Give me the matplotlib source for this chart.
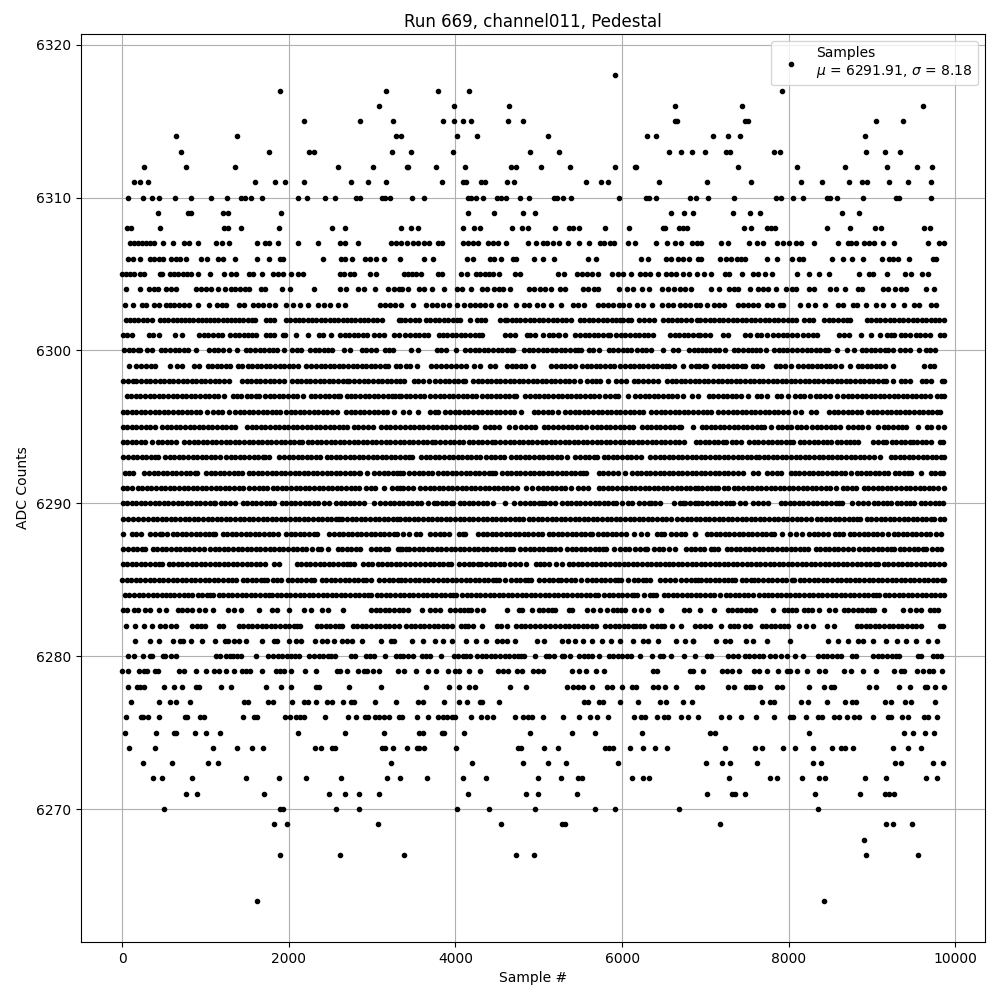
import matplotlib
matplotlib.use("Agg")
import matplotlib.pyplot as plt

# Sample numbers at each ADC level. Sparse levels are single
# dots read one by one; in the dense levels (about 6282-6302) merged dots cannot be
# separated, so the positions inside each visible run are estimates.
S6318 = [5919]
S6317 = [1895, 3167, 3795, 4167, 7917]
S6316 = [3083, 3987, 4647, 6639, 7437, 9609]
S6315 = [2183, 2855, 3251, 3855, 3987, 4095, 4191, 4635, 4815, 6639, 6663, 7473, 7505, 9045, 9369]
S6314 = [647, 1379, 3287, 3343, 4023, 4263, 5115, 6303, 6411, 7089, 7269, 7413, 8913]
S6313 = [707, 1763, 2243, 2303, 3239, 3471, 3975, 4899, 5247, 6567, 6711, 6843, 6993, 7245, 7293, 7821, 7893, 8925, 9153, 9333]
S6312 = [263, 767, 1355, 2591, 3011, 3415, 3431, 3771, 4119, 4671, 4731, 5031, 5379, 5919, 6150, 6170, 7389, 8097, 8673, 9177, 9537, 9717]
S6311 = [143, 215, 311, 1595, 1835, 1955, 2183, 2747, 2951, 3167, 3843, 4095, 4131, 4311, 4359, 4623, 4707, 5571, 5751, 5835, 6447, 7017, 7545, 8145, 8397, 8721, 8877, 8937, 9201, 9429, 9705]
S6310 = [71, 251, 359, 443, 635, 827, 1067, 1259, 1423, 1475, 1547, 1679, 2111, 2219, 2435, 2555, 2807, 2855, 3119, 3151, 3215, 3483, 3627, 4155, 4191, 4251, 4335, 4503, 4551, 4611, 4779, 4887, 5187, 5223, 5295, 5391, 5967, 6291, 6327, 6411, 6819, 6891, 7029, 7341, 7845, 7905, 8049, 8169, 8457, 8493, 8577, 8889, 9285, 9321, 9705]
S6309 = [431, 791, 831, 1211, 1271, 1907, 4155, 4467, 4815, 4959, 6591, 6747, 6855, 7329, 7533, 7653, 8637, 8841]
S6308 = [59, 111, 455, 1223, 1271, 1427, 1883, 2519, 2675, 3343, 3471, 3555, 4095, 4227, 4299, 4683, 4803, 4875, 5199, 5367, 5415, 5487, 5799, 6087, 6495, 6519, 6687, 6735, 6783, 7461, 7545, 7737, 7785, 7833, 8457, 8733, 9033, 9105, 9621, 9693]
S6307 = [95, 143, 191, 239, 287, 335, 383, 491, 611, 743, 803, 911, 1127, 1199, 1283, 1619, 1715, 1763, 1867, 2111, 2351, 2615, 2675, 2831, 3223, 3283, 3343, 3423, 3495, 3555, 3627, 3687, 3795, 3843, 4095, 4155, 4215, 4275, 4395, 4455, 4515, 4611, 4875, 4971, 5055, 5095, 5175, 5247, 5355, 5487, 5607, 5739, 5787, 5859, 5907, 6075, 6159, 6411, 6543, 6639, 6711, 6843, 6903, 6949, 7189, 7269, 7517, 7617, 7689, 7857, 7929, 8001, 8085, 8145, 8301, 8589, 8709, 8745, 8805, 8901, 8961, 9021, 9129, 9261, 9669, 9801, 9861]
S6306 = [71, 131, 215, 335, 383, 443, 491, 587, 647, 695, 767, 947, 1019, 1151, 1211, 1355, 1619, 1763, 1895, 1931, 2411, 2627, 2675, 2759, 2915, 2975, 3047, 3143, 3335, 3627, 3735, 4143, 4215, 4419, 4467, 4551, 4695, 4731, 4947, 5055, 5187, 5595, 5691, 6231, 6315, 6531, 6591, 6675, 6735, 6807, 6915, 6949, 7173, 7245, 7305, 7377, 7425, 7473, 7737, 7857, 8037, 8121, 8169, 8517, 8649, 8757, 8889, 9117, 9201, 9249, 9309, 9441, 9729, 9765]
S6305 = [0, 47, 95, 143, 215, 263, 455, 479, 575, 623, 671, 731, 779, 827, 911, 1055, 1223, 1307, 1367, 1523, 1571, 1679, 1811, 1871, 1931, 2027, 2111, 2171, 2615, 2663, 2735, 2783, 2975, 3047, 3387, 3435, 3483, 3531, 3591, 3795, 3843, 4071, 4143, 4251, 4299, 4359, 4407, 4455, 4527, 4719, 4779, 5235, 5307, 5463, 5523, 5583, 5643, 5715, 5883, 5955, 6015, 6111, 6219, 6279, 6339, 6435, 6531, 6591, 6651, 6735, 6807, 6903, 6981, 7065, 7233, 7281, 7437, 7569, 7629, 7713, 7797, 8097, 8241, 8361, 8481, 8841, 8961, 9009, 9177, 9393, 9465, 9597, 9669]
S6304 = [47, 215, 323, 383, 431, 527, 587, 647, 887, 947, 1007, 1067, 1151, 1235, 1307, 1355, 1415, 1475, 1523, 1667, 1715, 1919, 2015, 2303, 2615, 2687, 2831, 2903, 3035, 3191, 3263, 3323, 3363, 3435, 3567, 3627, 3723, 3867, 4023, 4083, 4191, 4323, 4383, 4467, 4527, 4575, 4659, 4887, 4947, 5019, 5079, 5151, 5259, 5319, 5535, 5595, 5667, 5715, 5967, 6063, 6135, 6243, 6327, 6483, 6555, 6627, 6699, 6759, 6831, 7065, 7161, 7281, 7341, 7389, 7533, 7629, 7689, 7749, 7845, 7965, 8037, 8085, 8241, 8301, 8493, 8565, 8673, 8829, 8877, 9129, 9189, 9273, 9345, 9405, 9645, 9741]
S6303 = [35, 131, 239, 287, 383, 443, 527, 575, 623, 683, 743, 803, 911, 1043, 1139, 1199, 1247, 1403, 1463, 1571, 1631, 1691, 1763, 1835, 1967, 2051, 2135, 2231, 2351, 2423, 2495, 2591, 2675, 3095, 3155, 3215, 3275, 3343, 3495, 3651, 3723, 3783, 3855, 3927, 4023, 4107, 4179, 4239, 4299, 4359, 4431, 4527, 4599, 4731, 4827, 4887, 4983, 5055, 5151, 5271, 5415, 5475, 5547, 5715, 5775, 5835, 5895, 5967, 6015, 6087, 6183, 6255, 6363, 6483, 6555, 6615, 6699, 6759, 6819, 6891, 6933, 7017, 7101, 7161, 7221, 7389, 7449, 7509, 7569, 7629, 7737, 7797, 7893, 7929, 8133, 8229, 8313, 8433, 8589, 8649, 8769, 8817, 8925, 9049, 9129, 9249, 9381, 9501, 9561, 9705, 9765]
S6302 = [47, 95, 143, 195, 245, 295, 359, 455, 505, 555, 605, 655, 705, 755, 805, 855, 905, 955, 1005, 1055, 1105, 1155, 1205, 1255, 1305, 1355, 1405, 1455, 1505, 1555, 1599, 1727, 1775, 1823, 1963, 2015, 2071, 2125, 2175, 2225, 2280, 2330, 2385, 2435, 2490, 2540, 2590, 2645, 2695, 2750, 2800, 2855, 2905, 2955, 3010, 3060, 3115, 3323, 3343, 3395, 3455, 3510, 3565, 3650, 3700, 3750, 3805, 3860, 3915, 3975, 4015, 4055, 4175, 4255, 4305, 4355, 4535, 4590, 4615, 4680, 4730, 4780, 4835, 4890, 4945, 5000, 5055, 5110, 5165, 5220, 5275, 5330, 5385, 5490, 5545, 5600, 5655, 5710, 5765, 5820, 5875, 5925, 5975, 6015, 6065, 6110, 6200, 6260, 6320, 6385, 6490, 6545, 6600, 6655, 6710, 6765, 6825, 6895, 6940, 6995, 7050, 7105, 7160, 7215, 7270, 7325, 7380, 7435, 7490, 7545, 7600, 7655, 7710, 7765, 7820, 7875, 7930, 7985, 8040, 8085, 8185, 8240, 8285, 8425, 8480, 8535, 8590, 8645, 8700, 8730, 8935, 8990, 9045, 9100, 9155, 9210, 9265, 9320, 9375, 9430, 9485, 9540, 9595, 9650, 9705, 9760, 9800, 9861]
S6301 = [7, 60, 115, 327, 370, 443, 639, 719, 927, 980, 1030, 1085, 1145, 1199, 1295, 1350, 1405, 1460, 1515, 1560, 1607, 1727, 1775, 1823, 1927, 1955, 2083, 2231, 2359, 2415, 2503, 2615, 2670, 2725, 2780, 2835, 2890, 2943, 3027, 3085, 3143, 3263, 3320, 3399, 3455, 3510, 3565, 3620, 3675, 3807, 3850, 3903, 3955, 4010, 4065, 4120, 4175, 4230, 4285, 4320, 4599, 4650, 4720, 4859, 4900, 4950, 5047, 5119, 5170, 5225, 5245, 5315, 5439, 5495, 5550, 5605, 5660, 5715, 5770, 5825, 5850, 5927, 5985, 6040, 6095, 6150, 6205, 6260, 6315, 6370, 6575, 6630, 6685, 6740, 6795, 6850, 6905, 6940, 7000, 7057, 7213, 7270, 7473, 7535, 7613, 7670, 7737, 7813, 7870, 7925, 7980, 8040, 8095, 8173, 8225, 8285, 8337, 8605, 8660, 8719, 8861, 8985, 9093, 9173, 9225, 9260, 9341, 9395, 9455, 9521, 9580, 9640, 9695, 9810, 9860]
S6300 = [27, 80, 135, 190, 219, 299, 355, 467, 520, 575, 630, 685, 740, 795, 883, 1047, 1100, 1155, 1210, 1279, 1379, 1487, 1540, 1595, 1650, 1705, 1760, 1815, 1855, 1943, 2039, 2095, 2151, 2255, 2310, 2365, 2420, 2475, 2519, 2667, 2735, 2875, 2930, 2985, 3047, 3155, 3205, 3255, 3471, 3555, 3779, 3830, 3890, 4003, 4119, 4175, 4230, 4285, 4340, 4395, 4450, 4505, 4560, 4615, 4670, 4695, 4827, 4880, 4935, 4990, 5045, 5100, 5155, 5210, 5265, 5320, 5375, 5430, 5475, 5511, 5599, 5655, 5720, 5839, 5895, 5950, 6005, 6060, 6107, 6179, 6240, 6290, 6347, 6495, 6607, 6670, 6807, 6860, 6905, 6955, 7010, 7060, 7113, 7165, 7235, 7341, 7395, 7450, 7505, 7560, 7605, 7649, 7729, 7825, 7880, 7925, 7981, 8040, 8095, 8161, 8215, 8270, 8325, 8380, 8435, 8470, 8581, 8701, 8785, 8873, 8930, 8985, 9040, 9095, 9150, 9195, 9249, 9333, 9390, 9450, 9561, 9641, 9695, 9760]
S6299 = [79, 167, 225, 285, 345, 395, 575, 659, 715, 859, 925, 1027, 1080, 1135, 1190, 1250, 1299, 1387, 1440, 1507, 1560, 1615, 1670, 1725, 1780, 1835, 1890, 1945, 2000, 2055, 2111, 2207, 2265, 2327, 2385, 2440, 2495, 2547, 2600, 2655, 2710, 2765, 2820, 2875, 2930, 2985, 3040, 3095, 3150, 3195, 3287, 3340, 3405, 3455, 3535, 3711, 3770, 3830, 3890, 3950, 4010, 4065, 4130, 4223, 4295, 4419, 4480, 4619, 4675, 4730, 4790, 4839, 4935, 5143, 5211, 5265, 5320, 5375, 5431, 5519, 5575, 5630, 5685, 5740, 5795, 5850, 5905, 5979, 6035, 6090, 6145, 6200, 6255, 6310, 6365, 6420, 6475, 6523, 6567, 6623, 6735, 6831, 6890, 6925, 6980, 7010, 7105, 7160, 7215, 7270, 7325, 7380, 7440, 7480, 7565, 7620, 7680, 7841, 7900, 7960, 8025, 8113, 8170, 8225, 8280, 8335, 8390, 8445, 8500, 8555, 8629, 8737, 8825, 8880, 8935, 8990, 9045, 9100, 9150, 9249, 9621, 9693, 9745]
S6298 = [7, 65, 130, 165, 227, 285, 340, 395, 450, 505, 560, 615, 670, 725, 780, 835, 890, 945, 1000, 1055, 1110, 1165, 1220, 1279, 1439, 1495, 1550, 1605, 1660, 1715, 1770, 1825, 1880, 1939, 2039, 2095, 2150, 2205, 2260, 2315, 2370, 2425, 2480, 2535, 2590, 2645, 2700, 2719, 2787, 2845, 2900, 2955, 3010, 3065, 3120, 3175, 3230, 3285, 3340, 3385, 3499, 3555, 3615, 3680, 3759, 3815, 3870, 3925, 3980, 4035, 4090, 4120, 4211, 4265, 4320, 4375, 4430, 4485, 4540, 4595, 4650, 4705, 4760, 4815, 4870, 4925, 4980, 5035, 5090, 5145, 5200, 5255, 5310, 5365, 5420, 5491, 5579, 5635, 5690, 5740, 5827, 5927, 5985, 6050, 6139, 6195, 6250, 6305, 6365, 6425, 6539, 6595, 6650, 6705, 6760, 6815, 6870, 6920, 6980, 7035, 7090, 7145, 7200, 7255, 7310, 7365, 7420, 7475, 7530, 7585, 7640, 7695, 7750, 7805, 7860, 7915, 7970, 8025, 8080, 8135, 8190, 8245, 8300, 8355, 8410, 8465, 8520, 8575, 8630, 8685, 8740, 8795, 8850, 8905, 8960, 9015, 9070, 9125, 9165, 9249, 9345, 9400, 9450, 9601, 9650, 9710, 9841, 9860]
S6297 = [55, 110, 165, 220, 275, 330, 385, 440, 495, 550, 605, 660, 715, 770, 825, 880, 935, 990, 1045, 1100, 1155, 1219, 1327, 1380, 1423, 1495, 1550, 1605, 1639, 1715, 1770, 1825, 1880, 1935, 1990, 2045, 2100, 2167, 2267, 2320, 2375, 2430, 2485, 2540, 2595, 2619, 2695, 2747, 2800, 2855, 2910, 2965, 3020, 3075, 3130, 3185, 3240, 3279, 3323, 3350, 3405, 3460, 3515, 3570, 3625, 3699, 3755, 3810, 3865, 3920, 3975, 4030, 4085, 4140, 4195, 4251, 4319, 4375, 4430, 4485, 4540, 4595, 4643, 4700, 4727, 4839, 4895, 4950, 5005, 5060, 5115, 5170, 5225, 5280, 5335, 5390, 5445, 5500, 5555, 5610, 5665, 5720, 5791, 5859, 5915, 5950, 6075, 6159, 6215, 6270, 6325, 6380, 6435, 6490, 6545, 6600, 6655, 6731, 6835, 6915, 7041, 7095, 7150, 7205, 7260, 7315, 7370, 7425, 7505, 7613, 7670, 7735, 7853, 7910, 7985, 8073, 8130, 8185, 8257, 8325, 8380, 8435, 8490, 8573, 8653, 8708, 8763, 8818, 8873, 8928, 8983, 9038, 9093, 9148, 9203, 9258, 9313, 9368, 9423, 9478, 9525, 9585, 9640, 9690, 9773, 9830, 9861]
S6296 = [7, 60, 115, 170, 225, 280, 335, 390, 445, 500, 555, 610, 665, 720, 775, 830, 885, 940, 1019, 1087, 1145, 1200, 1279, 1355, 1410, 1465, 1520, 1575, 1630, 1685, 1740, 1795, 1850, 1899, 1967, 2022, 2077, 2132, 2187, 2242, 2297, 2352, 2407, 2462, 2517, 2579, 2687, 2742, 2797, 2852, 2907, 2962, 3017, 3072, 3127, 3182, 3259, 3367, 3439, 3551, 3699, 3750, 3791, 3879, 3935, 3990, 4045, 4100, 4155, 4210, 4265, 4320, 4375, 4430, 4485, 4540, 4595, 4650, 4705, 4783, 4939, 4995, 5050, 5105, 5160, 5231, 5319, 5375, 5430, 5485, 5540, 5595, 5650, 5705, 5760, 5815, 5870, 5925, 5980, 6035, 6090, 6145, 6200, 6255, 6343, 6407, 6465, 6520, 6575, 6630, 6685, 6740, 6795, 6850, 6911, 6965, 7015, 7065, 7153, 7210, 7265, 7325, 7380, 7435, 7490, 7545, 7600, 7655, 7710, 7765, 7820, 7875, 7930, 7985, 8073, 8145, 8265, 8330, 8485, 8540, 8595, 8650, 8705, 8760, 8815, 8865, 8953, 9008, 9063, 9118, 9173, 9228, 9283, 9338, 9393, 9448, 9503, 9558, 9613, 9668, 9723, 9778, 9817]
S6295 = [7, 62, 117, 172, 227, 282, 337, 399, 479, 534, 589, 644, 699, 754, 809, 864, 919, 974, 1029, 1084, 1139, 1194, 1249, 1304, 1359, 1499, 1554, 1609, 1664, 1719, 1774, 1829, 1884, 1939, 1994, 2049, 2104, 2159, 2214, 2269, 2324, 2379, 2434, 2489, 2544, 2599, 2654, 2699, 2779, 2834, 2889, 2950, 3007, 3107, 3162, 3217, 3272, 3340, 3395, 3450, 3505, 3560, 3615, 3670, 3725, 3780, 3835, 3890, 3945, 4000, 4055, 4110, 4165, 4220, 4251, 4351, 4410, 4465, 4527, 4647, 4715, 4791, 4850, 4905, 4950, 5059, 5115, 5170, 5225, 5287, 5345, 5400, 5455, 5510, 5571, 5639, 5695, 5750, 5805, 5860, 5915, 5970, 6025, 6080, 6131, 6239, 6295, 6350, 6405, 6460, 6515, 6570, 6625, 6680, 6711, 6855, 6953, 7008, 7063, 7118, 7173, 7228, 7283, 7338, 7393, 7448, 7503, 7558, 7613, 7668, 7705, 7785, 7865, 7920, 7975, 8025, 8093, 8150, 8205, 8281, 8336, 8391, 8446, 8501, 8556, 8617, 8713, 8770, 8825, 8880, 8945, 9073, 9141, 9196, 9251, 9306, 9361, 9405, 9545, 9653, 9710, 9793, 9860]
S6294 = [5, 60, 115, 170, 225, 280, 359, 427, 482, 537, 592, 647, 747, 802, 857, 912, 967, 1022, 1077, 1132, 1187, 1242, 1297, 1352, 1407, 1462, 1517, 1572, 1627, 1682, 1737, 1792, 1847, 1902, 1957, 2012, 2067, 2122, 2159, 2227, 2282, 2337, 2392, 2447, 2502, 2557, 2612, 2667, 2722, 2777, 2832, 2887, 2942, 2997, 3052, 3107, 3162, 3217, 3272, 3330, 3385, 3440, 3495, 3550, 3605, 3660, 3715, 3751, 3819, 3874, 3929, 3984, 4039, 4091, 4159, 4214, 4269, 4324, 4379, 4434, 4471, 4539, 4594, 4649, 4704, 4759, 4814, 4869, 4924, 4979, 5034, 5089, 5144, 5199, 5254, 5309, 5364, 5419, 5474, 5529, 5584, 5639, 5694, 5749, 5804, 5859, 5914, 5969, 6024, 6079, 6134, 6189, 6244, 6299, 6354, 6409, 6464, 6519, 6574, 6629, 6684, 6737, 6881, 6936, 6991, 7046, 7101, 7156, 7211, 7245, 7313, 7370, 7425, 7525, 7580, 7635, 7690, 7745, 7800, 7855, 7910, 7965, 8020, 8045, 8133, 8188, 8243, 8298, 8353, 8408, 8463, 8505, 8573, 8628, 8683, 8738, 8785, 8825, 9013, 9070, 9125, 9165, 9233, 9290, 9345, 9400, 9450, 9485, 9541, 9596, 9651, 9705, 9813, 9850]
S6293 = [15, 70, 125, 180, 235, 290, 345, 400, 431, 515, 570, 625, 680, 735, 790, 845, 900, 955, 1010, 1065, 1120, 1179, 1247, 1302, 1357, 1412, 1467, 1522, 1577, 1632, 1687, 1720, 1759, 1887, 1942, 1997, 2052, 2107, 2162, 2217, 2272, 2327, 2379, 2455, 2510, 2565, 2620, 2675, 2730, 2785, 2840, 2895, 2950, 3005, 3060, 3115, 3170, 3225, 3280, 3335, 3390, 3445, 3480, 3587, 3642, 3697, 3752, 3807, 3862, 3917, 3972, 4027, 4082, 4137, 4192, 4247, 4291, 4367, 4422, 4477, 4532, 4583, 4667, 4722, 4777, 4832, 4887, 4942, 4997, 5052, 5107, 5162, 5217, 5272, 5339, 5439, 5494, 5549, 5604, 5665, 5699, 5779, 5834, 5889, 5944, 5999, 6054, 6109, 6164, 6231, 6339, 6394, 6449, 6504, 6559, 6614, 6669, 6724, 6779, 6834, 6889, 6945, 7000, 7055, 7110, 7165, 7220, 7275, 7330, 7385, 7440, 7495, 7550, 7605, 7637, 7697, 7752, 7807, 7862, 7917, 7972, 8027, 8082, 8137, 8192, 8247, 8302, 8357, 8412, 8467, 8522, 8577, 8632, 8687, 8742, 8797, 8852, 8907, 8962, 9017, 9093, 9221, 9276, 9331, 9386, 9441, 9496, 9551, 9606, 9661, 9716, 9771, 9826, 9860]
S6292 = [35, 85, 131, 267, 322, 377, 432, 487, 542, 597, 652, 707, 762, 817, 872, 899, 1007, 1062, 1117, 1172, 1227, 1282, 1337, 1392, 1439, 1519, 1574, 1629, 1684, 1739, 1794, 1849, 1904, 1959, 2014, 2069, 2124, 2179, 2234, 2289, 2344, 2399, 2454, 2509, 2564, 2619, 2674, 2729, 2784, 2839, 2859, 2943, 3027, 3082, 3137, 3192, 3247, 3302, 3340, 3371, 3440, 3503, 3558, 3613, 3668, 3723, 3791, 3847, 3902, 3957, 4012, 4067, 4122, 4177, 4232, 4287, 4342, 4397, 4440, 4471, 4559, 4614, 4669, 4724, 4779, 4834, 4889, 4944, 4999, 5054, 5109, 5164, 5219, 5274, 5329, 5384, 5439, 5494, 5535, 5571, 5719, 5774, 5829, 5895, 5951, 6039, 6119, 6174, 6229, 6284, 6339, 6394, 6449, 6504, 6559, 6614, 6669, 6724, 6779, 6834, 6889, 6945, 7000, 7055, 7110, 7165, 7220, 7275, 7330, 7385, 7445, 7573, 7630, 7741, 7795, 7855, 7905, 8021, 8073, 8128, 8183, 8238, 8293, 8348, 8403, 8458, 8513, 8568, 8623, 8678, 8745, 8813, 8868, 8923, 8978, 9033, 9088, 9143, 9193, 9273, 9328, 9383, 9428, 9465, 9589, 9701, 9756, 9811, 9853]
S6291 = [7, 55, 115, 187, 242, 297, 352, 407, 462, 517, 572, 627, 682, 737, 792, 847, 902, 957, 1012, 1067, 1122, 1177, 1232, 1287, 1342, 1403, 1455, 1527, 1582, 1637, 1692, 1739, 1807, 1862, 1917, 1972, 2027, 2082, 2137, 2192, 2247, 2302, 2357, 2412, 2467, 2522, 2577, 2632, 2687, 2742, 2797, 2839, 2927, 2985, 3030, 3143, 3239, 3295, 3335, 3375, 3430, 3495, 3579, 3634, 3689, 3744, 3799, 3854, 3909, 3964, 4019, 4074, 4129, 4184, 4239, 4294, 4349, 4404, 4459, 4514, 4569, 4624, 4679, 4743, 4847, 4919, 4991, 5046, 5101, 5156, 5211, 5266, 5319, 5387, 5471, 5525, 5585, 5719, 5774, 5829, 5884, 5939, 5994, 6049, 6104, 6159, 6214, 6269, 6324, 6379, 6434, 6489, 6544, 6599, 6654, 6709, 6764, 6819, 6874, 6905, 6960, 7015, 7070, 7110, 7153, 7221, 7275, 7341, 7396, 7451, 7506, 7561, 7616, 7671, 7726, 7781, 7836, 7891, 7946, 8001, 8056, 8111, 8166, 8221, 8276, 8331, 8386, 8441, 8496, 8565, 8649, 8704, 8759, 8810, 8901, 8956, 9011, 9066, 9121, 9176, 9231, 9286, 9345, 9405, 9460, 9515, 9570, 9625, 9680, 9735, 9790, 9860]
S6290 = [5, 60, 115, 170, 225, 280, 335, 390, 445, 500, 555, 610, 665, 720, 775, 830, 885, 940, 995, 1050, 1105, 1119, 1187, 1240, 1295, 1351, 1447, 1502, 1557, 1612, 1667, 1722, 1777, 1827, 1915, 1970, 2025, 2080, 2135, 2190, 2245, 2300, 2355, 2419, 2483, 2567, 2622, 2677, 2732, 2787, 2842, 2899, 3027, 3099, 3154, 3209, 3264, 3319, 3370, 3425, 3480, 3535, 3590, 3671, 3740, 3779, 3834, 3889, 3944, 3971, 4051, 4106, 4161, 4216, 4271, 4326, 4381, 4451, 4599, 4699, 4779, 4834, 4889, 4944, 4999, 5040, 5079, 5139, 5200, 5279, 5334, 5389, 5444, 5499, 5554, 5611, 5671, 5726, 5781, 5836, 5891, 5931, 5999, 6075, 6119, 6207, 6262, 6317, 6350, 6391, 6459, 6619, 6699, 6725, 6755, 6819, 6875, 6905, 6956, 7021, 7076, 7131, 7186, 7241, 7296, 7325, 7413, 7475, 7573, 7630, 7685, 7745, 7901, 7956, 8011, 8066, 8121, 8176, 8231, 8286, 8341, 8396, 8451, 8506, 8561, 8600, 8633, 8757, 8833, 8890, 8945, 9017, 9072, 9127, 9182, 9225, 9293, 9348, 9403, 9458, 9505, 9585, 9640, 9695, 9750, 9805, 9855]
S6289 = [15, 70, 125, 191, 255, 310, 365, 420, 475, 530, 585, 640, 695, 750, 805, 860, 915, 970, 1025, 1080, 1135, 1190, 1245, 1300, 1355, 1410, 1465, 1520, 1575, 1630, 1685, 1740, 1795, 1850, 1905, 1960, 2015, 2070, 2125, 2180, 2235, 2290, 2345, 2400, 2455, 2510, 2565, 2600, 2639, 2699, 2754, 2809, 2864, 2919, 2974, 3029, 3084, 3139, 3194, 3249, 3304, 3340, 3390, 3445, 3500, 3555, 3610, 3665, 3720, 3775, 3830, 3885, 3940, 3995, 4050, 4105, 4160, 4215, 4270, 4325, 4380, 4435, 4490, 4545, 4600, 4655, 4710, 4765, 4811, 4879, 4934, 4989, 5044, 5099, 5154, 5209, 5264, 5319, 5374, 5429, 5484, 5539, 5594, 5649, 5704, 5759, 5814, 5869, 5924, 5979, 6034, 6089, 6144, 6199, 6254, 6309, 6364, 6419, 6474, 6529, 6583, 6663, 6718, 6773, 6828, 6883, 6938, 6993, 7048, 7103, 7158, 7213, 7268, 7323, 7378, 7433, 7488, 7543, 7598, 7653, 7708, 7763, 7818, 7873, 7928, 7983, 8038, 8093, 8148, 8203, 8265, 8333, 8388, 8443, 8498, 8553, 8608, 8663, 8718, 8773, 8820, 8857, 8937, 8992, 9047, 9102, 9157, 9212, 9267, 9322, 9377, 9432, 9487, 9542, 9597, 9652, 9707, 9745, 9813, 9860]
S6288 = [11, 115, 170, 231, 339, 395, 455, 479, 535, 607, 662, 717, 772, 827, 882, 937, 992, 1047, 1085, 1119, 1207, 1262, 1317, 1372, 1427, 1482, 1537, 1592, 1647, 1702, 1757, 1812, 1867, 1967, 2022, 2077, 2132, 2187, 2242, 2297, 2339, 2487, 2542, 2597, 2652, 2707, 2762, 2817, 2872, 2927, 2982, 3037, 3092, 3147, 3202, 3257, 3299, 3375, 3447, 3527, 3575, 3699, 3755, 3810, 3865, 3923, 4039, 4090, 4115, 4271, 4326, 4381, 4436, 4491, 4546, 4601, 4656, 4711, 4766, 4821, 4876, 4931, 4986, 5039, 5119, 5174, 5229, 5284, 5339, 5394, 5449, 5504, 5559, 5614, 5639, 5711, 5766, 5821, 5876, 5931, 5986, 6051, 6139, 6223, 6303, 6419, 6465, 6503, 6591, 6646, 6701, 6759, 6871, 6873, 7013, 7068, 7123, 7178, 7233, 7288, 7343, 7398, 7453, 7508, 7563, 7618, 7673, 7728, 7783, 7825, 7913, 8013, 8083, 8153, 8245, 8300, 8355, 8410, 8465, 8553, 8600, 8645, 8733, 8788, 8843, 8898, 8953, 9008, 9063, 9118, 9193, 9257, 9312, 9367, 9422, 9477, 9532, 9587, 9642, 9697, 9765, 9825]
S6287 = [15, 70, 125, 180, 235, 279, 367, 422, 477, 532, 587, 642, 697, 752, 807, 862, 917, 979, 1055, 1110, 1165, 1220, 1275, 1330, 1385, 1440, 1495, 1550, 1605, 1660, 1715, 1770, 1825, 1880, 1935, 1990, 2045, 2100, 2155, 2210, 2279, 2351, 2391, 2471, 2587, 2642, 2697, 2752, 2807, 2859, 2987, 3042, 3097, 3150, 3191, 3307, 3340, 3359, 3410, 3447, 3502, 3557, 3612, 3667, 3722, 3777, 3832, 3887, 3942, 3997, 4052, 4107, 4162, 4217, 4272, 4327, 4382, 4437, 4492, 4547, 4602, 4657, 4691, 4779, 4834, 4889, 4944, 4999, 5054, 5109, 5150, 5191, 5255, 5339, 5394, 5449, 5504, 5559, 5614, 5669, 5724, 5770, 5811, 5907, 5979, 6035, 6083, 6159, 6215, 6271, 6303, 6387, 6440, 6495, 6559, 6635, 6767, 6825, 6880, 6935, 6985, 7061, 7105, 7145, 7253, 7308, 7363, 7418, 7473, 7528, 7583, 7638, 7693, 7748, 7803, 7858, 7913, 7968, 8023, 8078, 8133, 8188, 8225, 8321, 8376, 8431, 8486, 8541, 8596, 8651, 8706, 8773, 8845, 8900, 8955, 9005, 9065, 9120, 9175, 9225, 9265, 9333, 9388, 9443, 9498, 9553, 9608, 9645, 9721, 9775, 9825]
S6286 = [5, 60, 115, 170, 225, 280, 335, 390, 445, 479, 559, 614, 669, 724, 779, 834, 889, 944, 999, 1054, 1109, 1164, 1219, 1274, 1329, 1384, 1439, 1494, 1549, 1604, 1659, 1719, 1819, 1880, 2095, 2150, 2205, 2260, 2315, 2370, 2425, 2480, 2535, 2590, 2645, 2700, 2740, 2779, 2895, 2950, 2999, 3067, 3122, 3177, 3232, 3287, 3340, 3395, 3450, 3519, 3579, 3634, 3689, 3744, 3799, 3854, 3909, 3951, 4047, 4102, 4157, 4212, 4267, 4311, 4367, 4422, 4477, 4532, 4587, 4651, 4719, 4775, 4843, 4971, 5011, 5063, 5119, 5211, 5279, 5359, 5414, 5469, 5524, 5579, 5634, 5689, 5744, 5799, 5854, 5909, 5964, 6019, 6074, 6129, 6184, 6239, 6294, 6349, 6404, 6451, 6515, 6559, 6614, 6669, 6724, 6779, 6834, 6889, 6944, 6999, 7054, 7109, 7164, 7219, 7274, 7329, 7384, 7439, 7494, 7549, 7604, 7659, 7714, 7769, 7824, 7879, 7934, 7989, 8044, 8099, 8154, 8209, 8264, 8319, 8374, 8429, 8484, 8539, 8594, 8649, 8704, 8759, 8814, 8869, 8924, 8979, 9034, 9065, 9141, 9196, 9251, 9306, 9361, 9416, 9471, 9526, 9581, 9636, 9691, 9746, 9801, 9861]
S6285 = [0, 55, 110, 165, 220, 275, 330, 385, 440, 495, 550, 605, 660, 715, 770, 825, 880, 935, 990, 1045, 1100, 1155, 1210, 1265, 1320, 1367, 1447, 1502, 1557, 1612, 1667, 1700, 1739, 1807, 1860, 1911, 1987, 2042, 2097, 2152, 2207, 2262, 2299, 2395, 2450, 2505, 2560, 2615, 2670, 2725, 2780, 2835, 2890, 2931, 2983, 3087, 3142, 3197, 3252, 3307, 3345, 3400, 3455, 3510, 3565, 3620, 3675, 3731, 3791, 3846, 3901, 3956, 4011, 4066, 4121, 4176, 4231, 4286, 4341, 4396, 4451, 4490, 4523, 4599, 4667, 4722, 4777, 4832, 4875, 4911, 5007, 5062, 5117, 5172, 5227, 5263, 5327, 5385, 5439, 5511, 5579, 5634, 5689, 5744, 5799, 5854, 5909, 5950, 5991, 6067, 6139, 6194, 6249, 6290, 6331, 6459, 6514, 6569, 6631, 6711, 6766, 6821, 6876, 6905, 6945, 7001, 7056, 7111, 7166, 7221, 7276, 7320, 7353, 7433, 7488, 7543, 7577, 7629, 7693, 7748, 7803, 7858, 7913, 7965, 8033, 8065, 8133, 8188, 8243, 8298, 8353, 8408, 8463, 8518, 8573, 8628, 8683, 8738, 8793, 8848, 8903, 8958, 9013, 9068, 9123, 9178, 9233, 9288, 9343, 9398, 9453, 9508, 9563, 9618, 9673, 9728, 9783, 9838, 9860]
S6284 = [31, 79, 147, 200, 255, 311, 367, 422, 477, 532, 579, 627, 682, 737, 792, 839, 907, 962, 1017, 1055, 1091, 1159, 1214, 1269, 1324, 1379, 1434, 1489, 1544, 1599, 1654, 1709, 1764, 1799, 1855, 1910, 1965, 2020, 2075, 2130, 2185, 2240, 2295, 2350, 2405, 2460, 2515, 2570, 2625, 2680, 2735, 2790, 2845, 2900, 2955, 2991, 3055, 3110, 3165, 3220, 3275, 3330, 3385, 3440, 3495, 3550, 3605, 3660, 3715, 3770, 3825, 3880, 3935, 3965, 4003, 4079, 4134, 4189, 4244, 4299, 4354, 4409, 4464, 4519, 4574, 4629, 4684, 4739, 4794, 4849, 4904, 4959, 5014, 5069, 5124, 5179, 5234, 5289, 5344, 5399, 5454, 5509, 5564, 5619, 5674, 5711, 5783, 5838, 5893, 5948, 6003, 6058, 6113, 6148, 6183, 6267, 6339, 6375, 6411, 6499, 6554, 6609, 6664, 6719, 6774, 6829, 6884, 6940, 6995, 7050, 7105, 7177, 7241, 7296, 7351, 7406, 7461, 7516, 7571, 7637, 7701, 7747, 7793, 7853, 7908, 7963, 8018, 8073, 8128, 8183, 8238, 8293, 8348, 8403, 8458, 8513, 8568, 8623, 8678, 8733, 8788, 8843, 8898, 8953, 9008, 9050, 9085, 9153, 9208, 9263, 9318, 9373, 9428, 9483, 9538, 9593, 9648, 9703, 9758, 9813, 9861]
S6283 = [7, 59, 139, 195, 270, 331, 443, 527, 667, 722, 777, 839, 927, 991, 1091, 1271, 1343, 1427, 1643, 1799, 1859, 2003, 2187, 2271, 2399, 2467, 2651, 2987, 3042, 3097, 3152, 3207, 3262, 3317, 3367, 3431, 3603, 3699, 3751, 3819, 3939, 3994, 4049, 4104, 4145, 4183, 4259, 4331, 4623, 4759, 4799, 4915, 4999, 5054, 5109, 5155, 5199, 5359, 5399, 5579, 5651, 5739, 5819, 5887, 5942, 5987, 6031, 6139, 6231, 6311, 6463, 6739, 6799, 6937, 7105, 7265, 7320, 7375, 7425, 7485, 7540, 7593, 7805, 7941, 7995, 8040, 8085, 8181, 8230, 8273, 8357, 8481, 8557, 8661, 8716, 8771, 8826, 8881, 8936, 8985, 9025, 9141, 9369, 9453, 9525, 9585, 9693, 9740, 9785]
S6282 = [43, 155, 267, 359, 455, 520, 585, 651, 839, 895, 950, 999, 1159, 1207, 1399, 1454, 1509, 1564, 1619, 1674, 1729, 1784, 1839, 1894, 1949, 2004, 2059, 2100, 2139, 2335, 2390, 2445, 2500, 2555, 2600, 2639, 2767, 2822, 2877, 2932, 2987, 3042, 3097, 3152, 3207, 3262, 3317, 3407, 3462, 3517, 3572, 3627, 3682, 3737, 3792, 3847, 3902, 3959, 4071, 4111, 4151, 4215, 4319, 4499, 4551, 4623, 4727, 4782, 4837, 4891, 4959, 5014, 5069, 5131, 5199, 5254, 5309, 5364, 5419, 5474, 5529, 5584, 5639, 5691, 5799, 5854, 5909, 5964, 6019, 6074, 6129, 6170, 6211, 6267, 6359, 6414, 6469, 6503, 6603, 6711, 6879, 6930, 6990, 7053, 7181, 7293, 7340, 7385, 7469, 7529, 7673, 7728, 7783, 7838, 7893, 7948, 7985, 8121, 8201, 8289, 8453, 8541, 8813, 8868, 8923, 8978, 9033, 9088, 9143, 9198, 9253, 9308, 9363, 9418, 9473, 9528, 9585, 9813, 9850]
S6281 = [155, 335, 443, 607, 695, 735, 823, 963, 1115, 1231, 1271, 1343, 1403, 1487, 1683, 1823, 1863, 2003, 2087, 2143, 2315, 2403, 2463, 2543, 2643, 2703, 2763, 2883, 3103, 3223, 3263, 3475, 3607, 3755, 3855, 3955, 4131, 4251, 4371, 4495, 4555, 4615, 4715, 4975, 5063, 5283, 5355, 5439, 5535, 5643, 5763, 5871, 5979, 6135, 6255, 6315, 6435, 6651, 6759, 6855, 6849, 7125, 7233, 7293, 7485, 7569, 7737, 8013, 8469, 8589, 8709, 8829, 8889, 9009, 9165, 9297, 9409, 9525, 9669, 9777]
S6280 = [67, 139, 251, 335, 355, 487, 519, 591, 647, 1127, 1175, 1247, 1290, 1335, 1379, 1431, 1607, 1755, 1810, 1865, 1920, 1975, 2030, 2075, 2119, 2247, 2302, 2357, 2412, 2467, 2510, 2559, 2747, 2795, 2927, 2975, 3019, 3155, 3287, 3340, 3375, 3430, 3495, 3599, 3645, 3691, 3827, 3979, 4030, 4090, 4130, 4171, 4259, 4314, 4369, 4424, 4479, 4534, 4589, 4644, 4699, 4754, 4790, 4823, 4955, 5087, 5125, 5183, 5279, 5303, 5375, 5487, 5540, 5590, 5639, 5723, 5839, 5894, 5949, 6004, 6059, 6111, 6215, 6355, 6459, 6491, 6583, 6747, 6875, 7017, 7061, 7273, 7330, 7385, 7473, 7528, 7583, 7640, 7685, 7773, 7830, 7905, 7977, 8073, 8169, 8353, 8408, 8463, 8518, 8573, 8625, 8753, 8805, 9013, 9068, 9123, 9178, 9233, 9288, 9325, 9553, 9585, 9733, 9780, 9825]
S6279 = [0, 71, 203, 263, 299, 395, 431, 683, 743, 887, 1007, 1103, 1163, 1247, 1343, 1439, 1487, 1535, 1679, 1847, 1895, 1943, 2027, 2195, 2327, 2579, 2615, 2703, 2831, 2903, 2939, 3011, 3083, 3311, 3387, 3531, 3675, 3771, 3915, 3999, 4047, 4167, 4299, 4515, 4575, 4635, 4743, 4803, 4935, 4995, 5055, 5403, 5483, 5571, 5691, 5787, 6375, 6423, 6815, 6855, 6969, 7197, 7257, 7317, 7401, 7581, 7641, 7737, 7869, 7977, 8013, 8097, 8217, 8361, 8433, 8661, 8745, 8889, 9045, 9261, 9345, 9381, 9537, 9609, 9681, 9729, 9833]
S6278 = [71, 179, 215, 263, 503, 623, 719, 887, 923, 1187, 1307, 1727, 1907, 2027, 2327, 2363, 2723, 3107, 3651, 3927, 4047, 4167, 4239, 4659, 4851, 5343, 5415, 5475, 5535, 5643, 5823, 5883, 6003, 6123, 6171, 6375, 6435, 6519, 6651, 6903, 6957, 7269, 7341, 7485, 7533, 7569, 7653, 7857, 7917, 8241, 8421, 8505, 8541, 8961, 9045, 9321, 9453, 9633, 9657, 9753, 9861]
S6277 = [107, 443, 575, 647, 815, 1463, 1511, 1751, 1811, 2039, 2183, 2231, 2327, 2459, 2519, 2651, 2747, 2783, 3035, 3287, 3555, 3615, 3867, 4047, 4143, 4299, 4323, 4527, 5547, 5595, 5727, 5775, 5979, 6195, 6459, 6531, 6735, 6843, 7677, 7773, 7821, 8145, 8229, 8457, 8673, 8757, 8805, 9153, 9225, 9393, 9465, 9753]
S6276 = [47, 227, 251, 311, 443, 755, 779, 935, 983, 1451, 1583, 1619, 1955, 2015, 2087, 2135, 2183, 2435, 2711, 2807, 2915, 2951, 3035, 3083, 3143, 3203, 3323, 3363, 3535, 3675, 3795, 3855, 3895, 3955, 3995, 4191, 4311, 4383, 4455, 4719, 4815, 4875, 4915, 5055, 5295, 5487, 5619, 5703, 5835, 6147, 6231, 6279, 6423, 6507, 6555, 6711, 6795, 6915, 7185, 7281, 7425, 7605, 7821, 8013, 8049, 8205, 8349, 8397, 8541, 8601, 8697, 8781, 8841, 9009, 9189, 9225, 9357, 9429, 9621, 9669, 9777]
S6275 = [35, 407, 623, 647, 875, 1007, 1175, 2111, 2675, 3143, 3567, 3615, 3835, 3863, 4107, 4899, 5403, 5679, 6243, 7053, 7113, 8241, 9381, 9489, 9633, 9741]
S6274 = [83, 395, 1091, 1379, 1559, 1691, 2315, 2387, 2519, 2555, 3119, 3155, 3251, 3423, 3543, 3567, 3627, 4011, 4747, 4783, 5067, 5235, 5799, 5847, 5895, 6099, 6255, 6399, 6543, 7233, 7593, 7677, 7929, 8073, 8289, 8517, 8625, 8673, 8769, 9249, 9429, 9585]
S6273 = [251, 599, 1031, 1151, 3227, 4203, 4815, 5115, 5331, 5955, 7005, 7197, 7293, 7617, 8289, 8385, 9273, 9345, 9729, 9849]
S6272 = [371, 479, 839, 1487, 1883, 2207, 2627, 3179, 3335, 3663, 4095, 4371, 4995, 5271, 5475, 5523, 6123, 6255, 6327, 7281, 7773, 7857, 8157, 8361, 8433, 8913, 9165, 9645, 9777]
S6271 = [767, 899, 1703, 2483, 2675, 2843, 3083, 4155, 4851, 4995, 5463, 7017, 7317, 7353, 7473, 8313, 8853, 9153, 9201, 9261]
S6270 = [503, 1895, 1927, 2567, 2843, 4023, 4407, 4959, 5679, 5919, 6687, 8349]
S6269 = [1823, 1979, 3071, 4551, 5283, 5319, 7173, 9165, 9249, 9477]
S6268 = [8901]
S6267 = [1895, 2615, 3387, 4731, 4947, 8925, 9549]
S6264 = [1619, 8421]

levels = [6318, 6317, 6316, 6315, 6314, 6313, 6312, 6311, 6310, 6309, 6308, 6307, 6306, 6305, 6304, 6303,
          6302, 6301, 6300, 6299, 6298, 6297, 6296, 6295, 6294, 6293, 6292, 6291, 6290, 6289, 6288, 6287,
          6286, 6285, 6284, 6283, 6282, 6281, 6280, 6279, 6278, 6277, 6276, 6275, 6274, 6273, 6272, 6271,
          6270, 6269, 6268, 6267, 6264]
samples = [S6318, S6317, S6316, S6315, S6314, S6313, S6312, S6311, S6310, S6309, S6308, S6307, S6306, S6305, S6304, S6303,
           S6302, S6301, S6300, S6299, S6298, S6297, S6296, S6295, S6294, S6293, S6292, S6291, S6290, S6289, S6288, S6287,
           S6286, S6285, S6284, S6283, S6282, S6281, S6280, S6279, S6278, S6277, S6276, S6275, S6274, S6273, S6272, S6271,
           S6270, S6269, S6268, S6267, S6264]

title = "Run 669, channel011, Pedestal"
label = "Samples\n$\\mu$ = 6291.91, $\\sigma$ = 8.18"

xs = [s for row in samples for s in row]
ys = [lv for lv, row in zip(levels, samples) for _ in row]

fig, ax = plt.subplots(figsize=(10, 10), dpi=100)
ax.plot(xs, ys, ".", color="black", label=label)
ax.set_title(title, pad=5.3)
ax.set_xlabel("Sample #")
ax.set_ylabel("ADC Counts")
ax.legend(loc="upper right")
ax.grid(True)
fig.subplots_adjust(left=0.081, right=0.985, top=0.966, bottom=0.058)
fig.savefig("out.png", dpi=100)
